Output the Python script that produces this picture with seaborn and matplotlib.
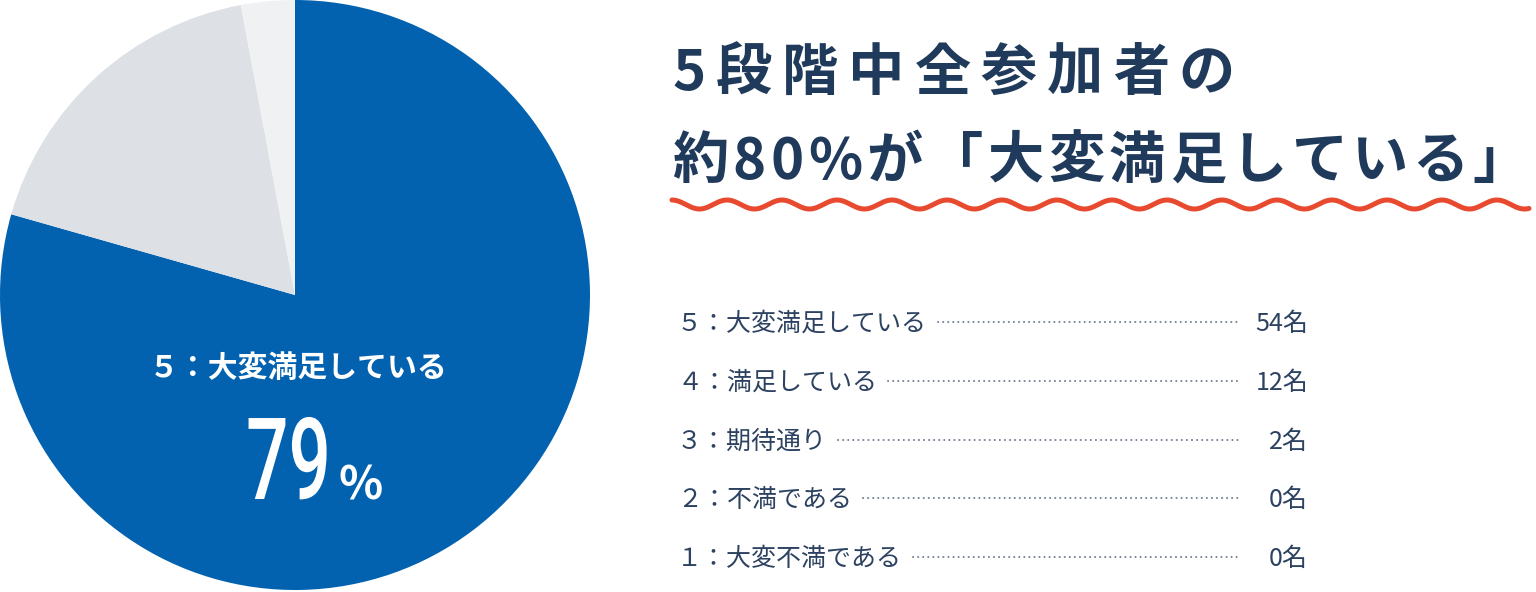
import numpy as np
import matplotlib
matplotlib.use("Agg")
import matplotlib.pyplot as plt
from matplotlib.patheffects import AbstractPathEffect
from matplotlib.transforms import Affine2D
import seaborn as sns

# chart data
levels = ["５：大変満足している", "４：満足している", "３：期待通り", "２：不満である", "１：大変不満である"]
counts = [54, 12, 2, 0, 0]
unit = "名"
title_lines = ["5段階中全参加者の", "約80%が「大変満足している」"]
slice_colors = ["#0262B0", "#DDE1E5", "#EFF1F3", "#F4F5F7", "#F8F9FA"]

navy = "#1F3A5A"
row_color = "#2C4260"
dot_color = "#6E7D90"
wave_color = "#E84A2F"

sns.set_theme(style="white")
plt.rcParams["font.family"] = ["Noto Sans CJK JP", "DejaVu Sans"]


class Squeeze(AbstractPathEffect):
    # narrows the glyphs horizontally around a fixed x (display pixels)
    def __init__(self, sx, x0):
        super().__init__()
        self.sx = sx
        self.x0 = x0

    def draw_path(self, renderer, gc, tpath, affine, rgbFace=None):
        squeeze = Affine2D().translate(-self.x0, 0).scale(self.sx, 1).translate(self.x0, 0)
        renderer.draw_path(gc, tpath, affine + squeeze, rgbFace)


W, H = 1536, 592
fig = plt.figure(figsize=(W / 100, H / 100), dpi=100)
fig.patch.set_facecolor("white")

# pie on the left, starting at 12 o'clock and going clockwise
ax = fig.add_axes([0, 2 / H, 590 / W, 590 / H])
ax.pie(counts, colors=slice_colors, startangle=90, counterclock=False,
       radius=1, wedgeprops=dict(linewidth=0))
ax.set_xlim(-1, 1)
ax.set_ylim(-1, 1)

# overlay axes in pixel units for the text part
ov = fig.add_axes([0, 0, 1, 1])
ov.set_xlim(0, W)
ov.set_ylim(H, 0)
ov.axis("off")
ov.patch.set_alpha(0)

renderer = fig.canvas.get_renderer()
inv = ov.transData.inverted()


def text_width(s, **kw):
    t = ov.text(0, 0, s, **kw)
    bb = t.get_window_extent(renderer)
    t.remove()
    return bb.width


def text_right_edge(t):
    bb = t.get_window_extent(renderer)
    return inv.transform((bb.x1, bb.y0))[0]


def fitted_text(x0, x1, y, s, **kw):
    # spread the characters so the line runs from x0 to x1
    widths = [text_width(ch, **kw) for ch in s]
    gap = (x1 - x0 - sum(widths)) / (len(s) - 1)
    x = x0
    for ch, w in zip(s, widths):
        ov.text(x, y, ch, ha="left", va="baseline", **kw)
        x += w + gap


# label inside the blue slice
share = round(counts[0] / sum(counts) * 100)
ov.text(298, 377, levels[0], ha="center", va="baseline", color="white",
        fontsize=21.5, fontweight="bold")
big = dict(family=["Roboto", "DejaVu Sans"], fontsize=82, fontweight="medium", color="white")
bw = text_width(f"{share}", **big)
ov.text(331, 499, f"{share}", ha="right", va="baseline",
        path_effects=[Squeeze(85 / bw, 331)], **big)
ov.text(339, 499, "%", ha="left", va="baseline", color="white",
        fontsize=33, fontweight="bold")

# headline
head = dict(color=navy, fontsize=40.5, fontweight="bold")
fitted_text(673, 1235, 90, title_lines[0], **head)
fitted_text(672, 1529, 178, title_lines[1], **head)

# wavy underline
xw = np.linspace(672, 1529, 2000)
ov.plot(xw, 204.5 - 4.5 * np.cos(2 * np.pi * (xw - 672) / 55), color=wave_color,
        lw=3.6, solid_capstyle="round")

# rows with dotted leaders
row_y = [322, 381, 440, 498, 557]
for lab, n, y in zip(levels, counts, row_y):
    t = ov.text(677, y + 9, lab, ha="left", va="baseline", color=row_color, fontsize=18)
    x_end = text_right_edge(t)
    ov.plot([x_end + 11, 1238], [y, y], color=dot_color, lw=1.4,
            linestyle=(0, (0.1, 2.5)), dash_capstyle="round")
    ov.text(1308, y + 9, f"{n}{unit}", ha="right", va="baseline", color=row_color,
            fontsize=18)

fig.savefig("out.png", dpi=100, facecolor="white")
